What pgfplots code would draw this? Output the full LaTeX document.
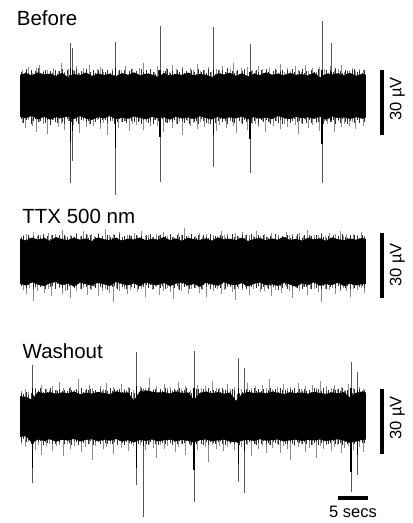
\documentclass[border=0pt]{standalone}
\usepackage{pgfplots}
\pgfplotsset{compat=1.18}
\usepackage{pgfplotstable}
\usepackage{fontspec}
\setmainfont{Liberation Sans}

% ---------- Before ----------
\pgfplotstableread{
x h l
0 9.8 -9.6
1 10.6 -10.2
2 9.4 -9.1
3 10.9 -10.8
4 9.9 -9.5
5 10.3 -10.9
6 9.2 -9.8
7 10.7 -10.1
8 8.6 -9.4
9 10.1 -10.6
10 9.6 -9.3
11 10.8 -10.4
12 9.3 -11.0
13 10.4 -9.7
14 9.7 -10.3
15 10.2 -9.2
16 9.0 -10.7
17 10.5 -9.9
18 9.8 -10.5
19 10.9 -9.4
20 9.5 -10.1
21 10.3 -10.8
22 9.9 -9.6
23 8.8 -10.2
24 10.6 -9.8
25 9.4 -10.9
26 10.2 -9.5
27 9.7 -10.4
28 10.8 -9.9
29 9.5 -10.6
30 10.1 -9.3
31 9.8 -10.2
32 8.7 -10.7
33 10.4 -9.6
34 9.9 -10.5
35 10.7 -9.8
36 9.3 -10.3
37 10.5 -9.4
38 9.0 -10.8
39 10.2 -9.7
40 9.6 -10.4
41 10.9 -9.9
42 9.8 -10.6
43 10.3 -9.2
44 9.5 -10.1
45 10.6 -10.7
46 9.7 -9.5
47 10.1 -10.3
48 9.4 -9.8
49 10.8 -10.5
50 8.6 -9.6
51 10.2 -10.9
52 9.9 -9.4
53 10.5 -10.2
54 9.6 -9.9
55 10.7 -10.6
56 9.3 -9.7
57 10.2 -10.4
57.667 9.8 -9.9
}\envA
\pgfplotstableread{
x u d
0.3 12.1 -12.5
0.9 11.0 -14.8
1.4 13.5 -11.2
2.1 10.8 -13.6
2.7 12.7 -16.4
3.2 14.2 -11.9
3.9 11.3 -13.1
4.5 12.0 -17.5
5.0 10.9 -12.3
5.6 13.1 -11.0
6.3 11.7 -14.2
6.8 15.0 -12.8
7.4 11.2 -15.6
8.0 12.4 -11.5
8.9 11.8 -13.4
9.4 13.6 -12.1
9.9 10.7 -16.9
10.5 12.9 -11.3
11.1 11.5 -14.5
11.6 14.4 -12.7
12.2 11.1 -13.8
12.8 12.6 -11.1
13.3 13.2 -15.1
13.9 10.9 -12.4
14.6 11.9 -17.8
15.3 12.3 -11.7
15.8 14.8 -13.2
16.4 11.4 -14.9
16.9 12.0 -12.0
17.5 13.7 -11.4
18.2 10.8 -16.1
18.7 12.5 -12.9
19.3 11.6 -13.5
19.9 13.0 -11.6
20.6 15.2 -15.8
21.1 11.3 -12.2
21.7 12.2 -14.0
22.4 10.9 -11.0
22.9 13.9 -13.7
23.8 11.7 -16.6
24.3 12.8 -12.6
24.8 11.0 -11.8
25.4 14.1 -14.6
26.0 12.4 -13.0
26.5 11.2 -12.1
27.1 13.3 -18.2
27.8 10.8 -11.3
28.3 12.7 -13.9
28.9 11.9 -12.5
29.6 14.6 -15.3
30.1 11.4 -11.9
30.7 12.1 -14.3
31.4 13.4 -12.8
31.9 11.0 -11.2
32.7 12.6 -16.2
33.2 11.8 -13.3
33.7 13.8 -12.0
34.3 10.9 -14.7
35.0 12.3 -11.5
35.5 15.4 -13.6
36.1 11.5 -17.1
36.8 12.9 -12.4
37.3 11.1 -11.1
37.9 13.5 -15.5
38.7 12.0 -13.1
39.2 11.3 -12.7
39.7 14.0 -14.1
40.4 12.5 -11.6
40.9 10.8 -16.8
41.5 13.1 -12.2
42.2 11.7 -13.8
42.7 12.2 -11.4
43.3 14.9 -15.0
44.0 11.0 -12.9
44.5 12.8 -14.4
45.1 11.6 -11.8
45.8 13.6 -13.2
46.3 12.1 -17.3
46.9 10.9 -12.3
47.6 14.3 -11.0
48.1 11.4 -14.8
48.7 12.7 -13.5
49.4 11.2 -12.6
49.9 13.2 -15.9
50.7 12.4 -11.7
51.2 10.8 -13.0
51.7 13.9 -12.1
52.3 11.8 -16.5
53.0 12.5 -11.3
53.5 14.5 -14.2
54.1 11.1 -12.8
54.8 12.0 -13.7
55.3 13.0 -11.9
55.9 11.5 -15.2
56.6 12.6 -12.4
57.2 11.9 -14.0
}\combA
\pgfplotstableread{
x u d cu cd
8.45 24.4 -40.1 13 -21
8.78 22.1 -30.0 12 -16
15.95 24.9 -45.6 13 -24
23.33 32.3 -39.6 12 -19
32.28 31.8 -32.7 12 -18
38.33 24.0 -35.5 11 -20
50.33 34.6 -40.1 12 -22
51.83 24.4 -12.0 11 -11
}\spikeA

% ---------- TTX ----------
\pgfplotstableread{
x h l
0 10.2 -10.5
1 9.5 -11.3
2 10.8 -9.8
3 9.9 -10.9
4 10.5 -11.6
5 9.3 -10.2
6 11.0 -9.7
7 10.1 -11.1
8 9.6 -10.4
9 10.7 -11.8
10 9.8 -9.9
11 10.4 -10.7
12 9.2 -11.4
13 10.9 -10.0
14 10.0 -10.8
15 9.7 -11.5
16 10.6 -9.6
17 9.4 -10.6
18 10.3 -11.2
19 9.9 -10.3
20 10.8 -11.7
21 9.5 -9.8
22 10.2 -10.9
23 9.8 -11.0
24 11.1 -10.1
25 9.6 -11.6
26 10.4 -10.4
27 9.3 -9.9
28 10.7 -11.3
29 10.0 -10.6
30 9.7 -11.9
31 10.5 -10.0
32 9.4 -10.8
33 10.9 -11.4
34 9.9 -9.7
35 10.3 -10.9
36 9.6 -11.1
37 10.8 -10.2
38 9.2 -11.7
39 10.1 -10.5
40 10.6 -9.9
41 9.5 -11.2
42 10.4 -10.7
43 9.8 -11.5
44 11.0 -10.1
45 9.7 -10.8
46 10.2 -11.9
47 9.4 -10.3
48 10.7 -11.0
49 9.9 -9.8
50 10.5 -11.4
51 9.3 -10.6
52 10.8 -11.1
53 10.0 -10.0
54 9.6 -11.6
55 10.4 -10.4
56 9.8 -11.2
57 10.6 -10.7
57.667 10.1 -10.5
}\envB
\pgfplotstableread{
x u d
0.5 11.8 -13.2
1.1 12.6 -15.1
1.6 11.2 -12.4
2.2 13.4 -18.5
2.9 11.6 -13.8
3.4 12.2 -12.0
4.0 11.0 -14.6
4.7 13.0 -12.8
5.2 11.9 -16.3
5.8 12.5 -13.1
6.5 11.3 -12.5
7.0 14.2 -15.4
7.6 11.7 -13.6
8.3 12.1 -17.2
8.8 11.1 -12.2
9.4 12.8 -14.0
10.1 11.5 -13.0
10.6 13.6 -12.6
11.2 11.9 -15.8
11.9 12.3 -13.4
12.4 11.4 -12.1
13.0 12.7 -16.0
13.7 11.2 -13.7
14.2 14.6 -12.9
14.8 11.8 -14.8
15.5 12.4 -18.9
16.0 11.0 -12.3
16.6 13.2 -13.9
17.3 11.6 -12.7
17.8 12.0 -15.0
18.4 11.3 -13.3
19.1 12.9 -12.0
19.6 11.7 -14.4
20.2 13.8 -13.0
20.9 11.4 -16.7
21.4 12.2 -12.6
22.0 11.1 -13.5
22.7 12.6 -12.2
23.2 11.9 -15.6
23.8 13.3 -13.8
24.5 11.5 -12.4
25.0 12.1 -14.2
25.6 11.2 -17.4
26.3 12.8 -12.9
26.8 11.8 -13.6
27.4 15.1 -12.1
28.1 11.3 -15.2
28.6 12.4 -13.1
29.2 11.6 -12.5
29.9 13.1 -14.7
30.4 11.0 -13.4
31.0 12.5 -16.4
31.7 11.7 -12.3
32.2 12.0 -13.9
32.8 11.4 -12.8
33.5 13.7 -15.3
34.0 11.9 -13.2
34.6 12.3 -12.0
35.3 11.1 -14.1
35.8 12.7 -18.1
36.4 11.5 -12.7
37.1 13.4 -13.5
37.6 11.8 -12.2
38.2 12.2 -15.7
38.9 11.3 -13.0
39.4 14.0 -12.6
40.0 11.6 -14.5
40.7 12.6 -13.7
41.2 11.2 -12.4
41.8 12.9 -16.2
42.5 11.7 -13.3
43.0 12.1 -12.9
43.6 11.0 -14.9
44.3 13.5 -12.1
44.8 11.9 -13.8
45.4 12.4 -17.0
46.1 11.4 -12.5
46.6 12.8 -13.6
47.2 11.6 -12.0
47.9 14.4 -15.5
48.4 11.3 -13.1
49.0 12.0 -12.7
49.7 11.8 -14.3
50.2 13.0 -18.7
50.8 11.5 -12.8
51.5 12.7 -13.4
52.0 11.1 -12.3
52.6 12.3 -15.1
53.3 13.9 -13.9
53.8 11.7 -12.6
54.4 12.2 -14.0
55.1 11.4 -16.6
55.6 12.6 -12.9
56.2 11.9 -13.2
56.9 13.2 -12.4
57.4 11.6 -14.6
}\combB

% ---------- Washout ----------
\pgfplotstableread{
x h l
0 9.2 -9.6
1 8.8 -9.3
2 7.5 -12.5
3 11.2 -10.8
4 10.4 -11.5
5 11.0 -10.6
6 10.2 -11.9
7 10.9 -10.9
8 10.5 -11.3
9 11.3 -10.5
10 10.0 -11.7
11 10.8 -11.0
12 10.3 -10.7
13 11.1 -11.6
14 10.6 -10.9
15 10.1 -11.4
16 11.4 -10.6
17 10.7 -11.8
18 10.9 -11.1
19 7.2 -12.2
20 11.5 -11.0
21 11.8 -11.5
22 11.2 -10.8
23 10.8 -11.7
24 11.0 -11.2
25 10.4 -10.9
26 11.3 -11.6
27 10.6 -11.0
28 10.9 -11.4
29 7.5 -12.3
30 10.7 -11.1
31 11.2 -10.8
32 10.5 -11.6
33 11.0 -11.2
34 10.3 -10.9
35 10.8 -11.8
36 7.0 -12.1
37 10.2 -11.3
38 11.1 -11.0
39 10.6 -11.5
40 10.9 -10.7
41 10.4 -11.4
42 11.2 -11.1
43 10.7 -10.8
44 10.1 -11.7
45 11.0 -11.2
46 10.5 -10.9
47 10.8 -11.5
48 10.3 -11.0
49 11.1 -11.3
50 10.6 -10.8
51 10.2 -11.6
52 10.9 -11.1
53 10.4 -10.7
54 11.0 -11.4
55 8.5 -12.4
56 10.7 -11.8
57 11.3 -11.0
57.667 10.8 -10.9
}\envC
\pgfplotstableread{
x u d
0.2 11.4 -12.8
0.8 12.3 -14.2
1.3 10.9 -11.9
2.5 13.1 -15.6
3.0 12.0 -13.3
3.6 14.5 -17.8
4.3 12.6 -13.9
4.8 11.8 -12.7
5.4 13.6 -16.1
6.1 12.2 -14.0
6.6 15.8 -13.2
7.2 12.9 -18.6
7.9 11.7 -12.9
8.4 13.4 -15.0
9.0 12.1 -13.6
9.7 16.9 -12.5
10.2 12.5 -16.8
10.8 11.9 -14.3
11.5 14.2 -13.0
12.0 12.7 -20.4
12.6 11.6 -13.8
13.3 13.8 -12.6
13.8 12.4 -15.4
14.4 15.3 -14.1
15.1 12.0 -13.1
15.6 13.2 -17.5
16.2 11.8 -12.8
16.9 14.7 -14.6
17.4 12.6 -13.5
18.0 13.5 -16.3
18.9 12.2 -14.0
20.0 14.0 -13.4
20.9 12.8 -15.8
21.5 17.6 -12.9
22.2 12.3 -14.8
22.7 13.9 -19.2
23.3 12.1 -13.2
24.0 14.9 -15.1
24.5 12.7 -13.7
25.1 13.3 -12.6
25.8 12.0 -16.6
26.3 15.6 -14.2
26.9 12.5 -13.0
27.6 13.7 -17.9
28.4 12.2 -13.6
29.6 14.4 -15.5
30.2 12.9 -12.8
30.9 13.6 -14.4
31.4 12.4 -21.0
32.0 16.3 -13.3
32.7 12.8 -15.2
33.2 13.1 -13.9
33.8 12.0 -16.0
34.5 14.6 -14.5
35.0 12.6 -12.9
35.7 13.4 -15.7
36.9 12.3 -14.1
37.9 15.0 -13.4
38.5 12.7 -18.3
39.2 13.8 -13.1
39.7 12.1 -15.3
40.3 14.2 -14.0
41.0 12.9 -16.9
41.5 17.2 -13.5
42.1 12.5 -14.7
42.8 13.5 -12.7
43.3 12.2 -17.2
43.9 14.8 -13.8
44.6 12.8 -15.0
45.1 13.3 -20.1
45.7 12.4 -13.6
46.4 15.4 -14.3
46.9 12.6 -13.0
47.5 13.9 -16.4
48.2 12.0 -14.6
48.7 14.1 -13.2
49.3 12.7 -19.5
50.0 16.0 -14.0
50.5 12.3 -15.4
51.1 13.6 -13.3
51.8 12.9 -16.2
52.3 14.3 -14.4
52.9 12.5 -13.5
53.6 13.2 -17.0
54.1 12.1 -14.9
54.7 14.7 -13.7
55.6 12.8 -15.6
56.6 13.5 -14.1
57.2 12.4 -16.7
}\combC
\pgfplotstableread{
x u d cu cd
2.05 23.5 -30.9 13 -24
19.45 29.6 -31.8 14 -24
20.55 12.0 -46.4 11 -14
29.0 30.1 -39.5 13 -25
36.38 26.6 -30.3 13 -22
37.38 22.0 -35.6 12 -16
55.17 25.0 -34.9 13 -26
56.28 20.4 -27.2 12 -18
}\spikeC

% ---------- dense edge noise of the three traces ----------
\pgfplotstableread{
x u1 d1 u2 d2 u3 d3
0.2 11.2 -10.8 10.9 -11.6 10.4 -11.9
0.6 10.1 -12.3 11.7 -10.5 10.0 -10.7
1.0 12.4 -11.0 10.3 -12.4 11.1 -12.2
1.4 10.6 -10.2 12.1 -11.1 9.9 -11.0
1.8 11.8 -12.9 10.7 -10.3 10.6 -12.8
2.2 10.0 -11.4 11.3 -12.9 9.6 -13.1
2.6 11.5 -10.6 10.1 -11.8 12.3 -11.5
3.0 12.7 -12.0 11.9 -10.9 11.6 -12.0
3.4 10.4 -11.7 10.5 -12.2 12.8 -11.3
3.8 11.0 -10.4 12.4 -11.4 11.2 -13.4
4.2 12.1 -12.6 10.8 -13.1 12.5 -11.8
4.6 10.2 -11.1 11.5 -10.7 11.0 -12.5
5.0 11.6 -13.2 10.2 -12.0 12.9 -11.1
5.4 10.8 -10.9 12.0 -11.3 11.4 -12.7
5.8 12.2 -11.8 11.1 -12.7 12.1 -13.0
6.2 10.3 -12.4 10.4 -10.6 11.7 -11.6
6.6 11.4 -10.5 11.8 -11.9 12.6 -12.3
7.0 12.5 -11.9 10.6 -12.5 11.3 -11.2
7.4 10.7 -12.8 12.2 -11.0 12.2 -12.9
7.8 11.9 -10.7 11.0 -13.3 11.5 -11.7
8.2 9.9 -11.5 10.0 -11.5 12.7 -12.4
8.6 9.6 -12.1 11.6 -10.8 11.8 -13.2
9.0 11.3 -10.3 10.9 -12.3 11.0 -11.4
9.4 12.3 -11.6 12.5 -11.7 12.4 -12.1
9.8 10.5 -12.7 10.3 -10.4 11.6 -13.3
10.2 11.7 -11.2 11.4 -12.8 12.8 -11.9
10.6 10.9 -10.6 10.8 -11.2 11.1 -12.6
11.0 12.6 -12.2 12.3 -12.1 12.3 -11.0
11.4 10.1 -11.3 10.5 -10.9 11.9 -12.8
11.8 11.2 -13.0 11.9 -13.0 12.6 -11.5
12.2 12.0 -10.8 10.1 -11.6 11.4 -13.5
12.6 10.6 -11.9 11.2 -12.4 12.0 -12.2
13.0 11.8 -10.4 12.6 -10.6 11.2 -11.8
13.4 10.3 -12.5 10.7 -11.9 12.5 -12.9
13.8 12.4 -11.1 11.5 -12.6 11.7 -11.3
14.2 11.0 -10.9 10.2 -11.1 12.2 -12.4
14.6 12.2 -12.3 12.0 -13.2 11.5 -13.0
15.0 10.4 -11.5 11.0 -10.7 12.9 -11.6
15.4 11.5 -10.7 10.6 -12.2 11.3 -12.7
15.8 9.7 -13.1 11.8 -11.4 12.4 -12.0
16.2 9.8 -11.8 10.4 -12.9 11.8 -13.2
16.6 12.1 -10.5 12.4 -10.8 12.6 -11.4
17.0 10.7 -12.0 10.9 -12.0 11.0 -12.5
17.4 11.9 -11.4 11.6 -11.3 12.1 -13.4
17.8 10.2 -12.6 10.1 -12.7 11.6 -11.9
18.2 11.4 -10.8 12.2 -10.5 12.8 -12.3
18.6 12.6 -11.7 11.3 -11.8 11.2 -13.1
19.0 10.5 -12.2 10.7 -12.4 10.8 -11.7
19.4 11.6 -10.3 12.1 -11.0 9.8 -12.8
19.8 10.0 -11.9 10.5 -13.0 10.2 -13.0
20.2 12.3 -12.8 11.7 -11.5 12.9 -12.1
20.6 10.9 -11.0 10.2 -12.1 12.3 -11.4
21.0 11.8 -10.6 11.9 -10.9 11.7 -12.9
21.4 10.6 -12.4 10.8 -12.6 12.7 -13.3
21.8 12.5 -11.3 12.5 -11.2 11.4 -12.2
22.2 11.1 -12.9 11.1 -13.1 12.0 -11.6
22.6 10.3 -10.9 10.3 -11.7 12.6 -12.7
23.0 12.0 -11.6 11.5 -10.6 11.1 -13.4
23.4 9.8 -12.1 12.0 -12.3 12.4 -11.8
23.8 10.2 -10.5 10.6 -11.4 11.6 -12.5
24.2 11.7 -11.8 11.4 -12.8 12.8 -13.0
24.6 12.4 -12.5 10.0 -11.1 11.9 -11.5
25.0 10.8 -10.7 12.3 -12.0 12.2 -12.6
25.4 11.3 -12.0 11.0 -10.7 11.3 -13.3
25.8 10.1 -11.2 10.4 -12.5 12.5 -12.0
26.2 12.2 -13.0 11.8 -11.6 11.8 -12.8
26.6 11.0 -10.4 10.9 -13.2 12.7 -11.3
27.0 12.6 -11.5 12.2 -10.8 11.5 -13.1
27.4 10.4 -12.3 10.5 -12.2 12.1 -12.4
27.8 11.5 -11.1 11.6 -11.3 12.9 -11.7
28.2 10.7 -12.7 10.2 -12.9 11.0 -12.9
28.6 12.1 -10.8 12.6 -11.0 10.6 -13.4
29.0 11.2 -12.2 11.2 -12.4 10.1 -12.3
29.4 10.0 -11.4 10.7 -10.5 12.3 -13.0
29.8 12.3 -12.9 11.9 -11.9 12.6 -11.6
30.2 10.9 -10.6 10.3 -12.7 11.2 -12.7
30.6 11.8 -11.7 12.1 -11.2 12.4 -13.2
31.0 10.5 -12.4 11.1 -12.1 11.7 -12.1
31.4 12.5 -11.0 10.6 -10.9 12.8 -13.5
31.8 11.1 -13.1 12.4 -13.0 11.3 -11.9
32.2 9.7 -10.9 10.8 -11.6 12.0 -12.6
32.6 10.1 -12.6 11.5 -12.3 11.6 -13.1
33.0 11.9 -11.3 10.1 -11.4 12.5 -12.2
33.4 10.6 -10.5 12.0 -12.6 11.1 -11.4
33.8 12.2 -12.1 11.3 -10.7 12.7 -12.9
34.2 11.0 -11.6 10.5 -12.8 11.9 -13.3
34.6 12.7 -12.8 11.7 -11.5 12.2 -12.0
35.0 10.3 -10.7 10.2 -12.0 11.4 -13.0
35.4 11.6 -11.9 12.3 -11.1 12.6 -11.8
35.8 10.8 -12.3 10.9 -13.1 11.8 -12.8
36.2 12.0 -10.3 11.4 -11.8 10.3 -12.4
36.6 10.2 -11.7 10.4 -10.6 10.6 -13.3
37.0 11.4 -13.0 12.1 -12.4 11.0 -11.5
37.4 12.3 -11.2 10.7 -11.0 10.9 -12.7
37.8 9.9 -12.0 11.8 -12.9 12.4 -13.1
38.2 9.8 -10.8 10.0 -11.7 12.0 -12.1
38.6 11.7 -12.5 12.5 -12.2 11.3 -11.6
39.0 10.5 -11.4 11.0 -10.8 12.8 -12.9
39.4 12.1 -10.6 10.6 -12.5 11.5 -13.4
39.8 10.9 -12.7 11.9 -11.3 12.3 -12.3
40.2 11.8 -11.1 10.3 -13.0 11.7 -12.8
40.6 10.4 -12.2 12.2 -11.9 12.6 -11.7
41.0 12.4 -10.9 11.2 -10.5 11.2 -13.0
41.4 11.1 -11.8 10.8 -12.7 12.1 -12.5
41.8 10.0 -13.1 11.6 -11.4 12.9 -13.2
42.2 11.6 -10.4 10.1 -12.1 11.6 -11.9
42.6 12.6 -11.6 12.4 -11.0 12.4 -12.6
43.0 10.6 -12.4 11.1 -13.2 11.0 -13.4
43.4 11.3 -11.0 10.4 -11.6 12.7 -12.2
43.8 12.2 -12.8 11.7 -12.3 11.8 -11.5
44.2 10.2 -10.7 10.9 -10.9 12.2 -12.9
44.6 11.9 -11.5 12.0 -12.8 11.4 -13.1
45.0 10.8 -12.6 10.5 -11.2 12.5 -12.0
45.4 12.5 -11.3 11.3 -12.0 11.9 -12.7
45.8 11.0 -10.5 10.2 -11.5 12.8 -13.3
46.2 10.3 -12.0 12.3 -12.6 11.1 -11.8
46.6 11.7 -11.7 11.0 -10.7 12.3 -12.4
47.0 12.3 -12.9 10.7 -13.1 11.5 -13.0
47.4 10.7 -10.8 11.8 -11.8 12.6 -12.2
47.8 11.4 -12.3 10.3 -12.2 11.7 -12.8
48.2 10.1 -11.1 12.2 -11.1 12.1 -11.6
48.6 12.0 -12.5 11.4 -12.9 11.2 -13.2
49.0 11.2 -10.6 10.6 -10.8 12.7 -12.6
49.4 10.5 -11.9 11.9 -12.4 11.9 -12.1
49.8 12.4 -12.2 10.0 -11.3 12.4 -13.5
50.2 9.6 -10.9 12.5 -12.7 11.3 -12.3
50.6 9.9 -12.8 11.1 -11.6 12.8 -11.9
51.0 11.8 -11.4 10.4 -13.0 11.6 -12.9
51.4 10.8 -10.4 11.6 -11.2 12.2 -13.1
51.8 12.2 -12.1 10.8 -12.1 11.0 -12.4
52.2 11.0 -11.2 12.1 -10.6 12.5 -11.7
52.6 12.7 -12.7 10.5 -12.6 11.8 -12.8
53.0 10.3 -11.0 11.3 -11.4 12.3 -13.0
53.4 11.5 -12.4 10.2 -12.9 11.4 -12.5
53.8 10.6 -10.7 12.4 -11.0 12.9 -13.3
54.2 12.1 -11.8 11.0 -12.3 11.7 -12.0
54.6 11.3 -12.9 10.7 -11.5 12.0 -12.7
55.0 10.2 -11.5 11.8 -12.8 10.2 -13.2
55.4 11.9 -10.6 10.3 -11.2 10.8 -12.2
55.8 12.5 -12.3 12.2 -12.5 12.6 -12.9
56.2 10.9 -11.1 11.5 -10.9 11.9 -13.4
56.6 11.6 -12.6 10.6 -12.0 12.4 -11.8
57.0 10.4 -10.8 12.0 -11.7 11.5 -12.6
57.4 11.8 -12.0 10.9 -12.4 12.2 -12.3
}\fuzz

\pgfplotsset{
  trace/.style={scale only axis, width=346pt, height=193.13pt,
    xmin=0, xmax=57.667, ymin=-49, ymax=40, hide axis, clip=false,
    anchor=south west},
  comb/.style={ycomb, black!45, line width=0.45pt, mark=none},
  fz/.style={ycomb, black!82, line width=0.6pt, mark=none},
  band/.style={fill=black, draw=none, mark=none},
  spk/.style={ycomb, black!65, line width=0.7pt, mark=none},
  spkcore/.style={ycomb, black, line width=1.1pt, mark=none},
  sbar/.style={black, line width=3.5pt, mark=none},
}
\newcommand{\lab}{\fontsize{20.5}{24}\selectfont}
\newcommand{\slab}{\fontsize{16.5}{20}\selectfont}

\begin{document}
\begin{tikzpicture}

% Before
\begin{axis}[trace, at={(20pt,320.67pt)}]
\addplot[comb] table[x=x,y=u] {\combA};
\addplot[comb] table[x=x,y=d] {\combA};
\addplot[fz] table[x=x,y=u1] {\fuzz};
\addplot[fz] table[x=x,y=d1] {\fuzz};
\addplot[band] table[x=x,y=h] {\envA} \closedcycle;
\addplot[band] table[x=x,y=l] {\envA} \closedcycle;
\addplot[spk] table[x=x,y=u] {\spikeA};
\addplot[spk] table[x=x,y=d] {\spikeA};
\addplot[spkcore] table[x=x,y=cu] {\spikeA};
\addplot[spkcore] table[x=x,y=cd] {\spikeA};
\addplot[sbar] coordinates {(60.33,-18) (60.33,12)};
\node[rotate=90, font=\slab] at (axis cs:62.9,-1.4) {30 µV};
\end{axis}

% TTX
\begin{axis}[trace, at={(20pt,155.67pt)}]
\addplot[comb] table[x=x,y=u] {\combB};
\addplot[comb] table[x=x,y=d] {\combB};
\addplot[fz] table[x=x,y=u2] {\fuzz};
\addplot[fz] table[x=x,y=d2] {\fuzz};
\addplot[band] table[x=x,y=h] {\envB} \closedcycle;
\addplot[band] table[x=x,y=l] {\envB} \closedcycle;
\addplot[sbar] coordinates {(60.33,-17.2) (60.33,12.8)};
\node[rotate=90, font=\slab] at (axis cs:62.9,-1.8) {30 µV};
\end{axis}

% Washout
\begin{axis}[trace, at={(20pt,0.67pt)}]
\addplot[comb] table[x=x,y=u] {\combC};
\addplot[comb] table[x=x,y=d] {\combC};
\addplot[fz] table[x=x,y=u3] {\fuzz};
\addplot[fz] table[x=x,y=d3] {\fuzz};
\addplot[band] table[x=x,y=h] {\envC} \closedcycle;
\addplot[band] table[x=x,y=l] {\envC} \closedcycle;
\addplot[spk] table[x=x,y=u] {\spikeC};
\addplot[spk] table[x=x,y=d] {\spikeC};
\addplot[spkcore] table[x=x,y=cu] {\spikeC};
\addplot[spkcore] table[x=x,y=cd] {\spikeC};
\addplot[sbar] coordinates {(60.33,-17.6) (60.33,12.4)};
\node[rotate=90, font=\slab] at (axis cs:62.9,-1) {30 µV};
\addplot[sbar] coordinates {(53,-37.8) (58,-37.8)};
\node[anchor=base, font=\slab] at (axis cs:55.5,-47) {5 secs};
\end{axis}

\node[anchor=base west, font=\lab, inner sep=0pt] at (16.7pt,497pt) {Before};
\node[anchor=base west, font=\lab, inner sep=0pt] at (22.2pt,299.7pt) {TTX 500 nm};
\node[anchor=base west, font=\lab, inner sep=0pt] at (22.5pt,164pt) {Washout};

\pgfresetboundingbox
\path[use as bounding box] (0,0) rectangle (413pt,523pt);
\end{tikzpicture}
\end{document}
